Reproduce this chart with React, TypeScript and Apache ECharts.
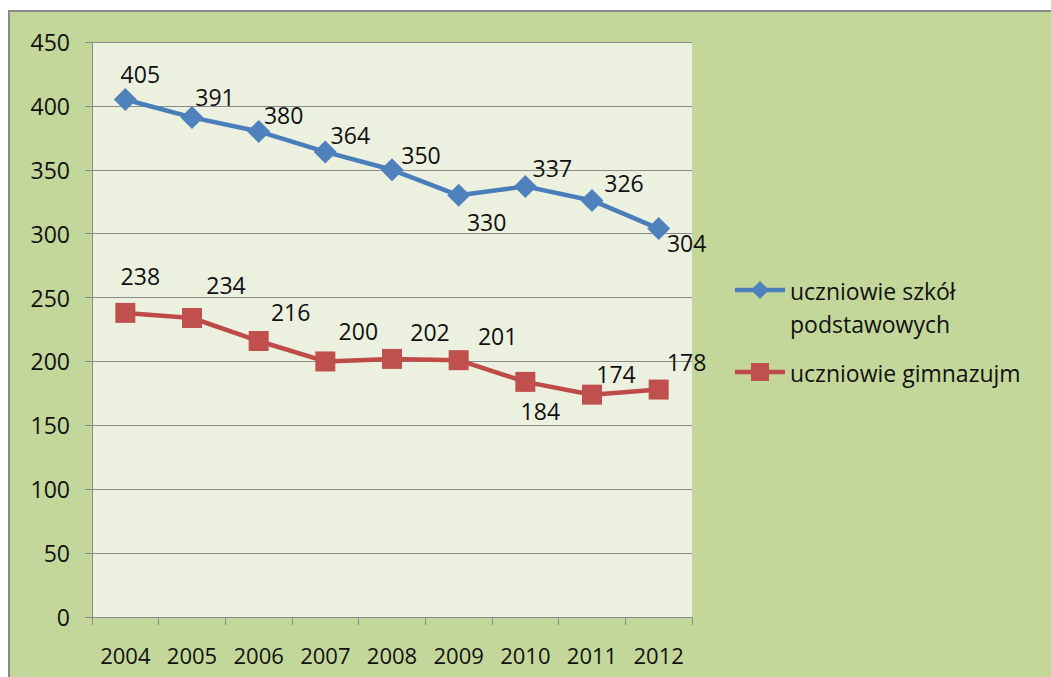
import React, { useEffect, useRef } from "react";
import * as echarts from "echarts";

const years = ["2004", "2005", "2006", "2007", "2008", "2009", "2010", "2011", "2012"];
const primaryName = "uczniowie szkół podstawowych";
const primaryValues = [405, 391, 380, 364, 350, 330, 337, 326, 304];
const gymName = "uczniowie gimnazujm";
const gymValues = [238, 234, 216, 200, 202, 201, 184, 174, 178];

// label offsets (px) relative to each point
const primaryLabelOffsets = [
  [15, -26], [23, -20], [25, -16], [25, -17], [29, -15], [28, 27], [27, -18], [32, -17], [28, 14],
];
const gymLabelOffsets = [
  [15, -37], [34, -33], [32, -29], [33, -30], [38, -27], [39, -24], [15, 29], [24, -21], [28, -28],
];

const FONT = "Open Sans";
const BLUE = "#4A7EBB";
const RED = "#BE4B48";
const GRID = "#8A8A8A";

export default function App() {
  const ref = useRef<HTMLDivElement>(null);
  useEffect(() => {
    if (!ref.current) return;
    const chart = echarts.init(ref.current, undefined, { renderer: "svg" });
    const labelStyle = {
      show: true,
      position: "inside",
      fontFamily: FONT,
      fontSize: 23,
      color: "#111",
    };
    const legendFont = `23px "${FONT}"`;
    chart.setOption({
      animation: false,
      backgroundColor: "#C4D79B",
      textStyle: { fontFamily: FONT },
      grid: {
        left: 82,
        top: 30,
        width: 600,
        height: 575,
        show: true,
        backgroundColor: "#EBF0DF",
        borderWidth: 0,
      },
      xAxis: {
        type: "category",
        data: years,
        boundaryGap: true,
        axisLine: { lineStyle: { color: GRID, width: 1 } },
        axisTick: { show: true, alignWithLabel: false, interval: 0, length: 8, lineStyle: { color: GRID } },
        axisLabel: { fontFamily: FONT, fontSize: 22, color: "#111", margin: 27, interval: 0 },
      },
      yAxis: {
        type: "value",
        min: 0,
        max: 450,
        interval: 50,
        axisLine: { show: true, lineStyle: { color: GRID, width: 1 } },
        axisTick: { show: true, length: 7, lineStyle: { color: GRID } },
        axisLabel: { fontFamily: FONT, fontSize: 23, color: "#111", margin: 22 },
        splitLine: { show: true, lineStyle: { color: GRID, width: 1 } },
      },
      series: [
        {
          name: primaryName,
          type: "line",
          data: primaryValues.map((v, i) => ({
            value: v,
            label: { ...labelStyle, offset: primaryLabelOffsets[i] },
          })),
          symbol: "diamond",
          symbolSize: 23,
          lineStyle: { color: BLUE, width: 4.5 },
          itemStyle: { color: "#4F81BD" },
        },
        {
          name: gymName,
          type: "line",
          data: gymValues.map((v, i) => ({
            value: v,
            label: { ...labelStyle, offset: gymLabelOffsets[i] },
          })),
          symbol: "rect",
          symbolSize: 20,
          lineStyle: { color: RED, width: 4.5 },
          itemStyle: { color: "#C0504D" },
        },
      ],
      graphic: [
        { type: "line", shape: { x1: 725, y1: 278, x2: 775, y2: 278 }, style: { stroke: BLUE, lineWidth: 4.5 } },
        { type: "polygon", shape: { points: [[750, 269], [759, 278], [750, 287], [741, 278]] }, style: { fill: "#4F81BD" } },
        { type: "text", x: 780, y: 279, style: { text: "uczniowie szkół", font: legendFont, fill: "#111", verticalAlign: "middle" } },
        { type: "text", x: 780, y: 312, style: { text: "podstawowych", font: legendFont, fill: "#111", verticalAlign: "middle" } },
        { type: "line", shape: { x1: 725, y1: 360, x2: 775, y2: 360 }, style: { stroke: RED, lineWidth: 4.5 } },
        { type: "rect", shape: { x: 741, y: 351, width: 18, height: 18 }, style: { fill: "#C0504D" } },
        { type: "text", x: 780, y: 361, style: { text: gymName, font: legendFont, fill: "#111", verticalAlign: "middle" } },
      ],
    });
    return () => chart.dispose();
  }, []);
  return (
    <div style={{ position: "fixed", left: 0, top: 0, width: 1051, height: 677, background: "#fff", overflow: "hidden" }}>
      <div
        style={{
          position: "absolute",
          left: 8,
          top: 10,
          width: 1043,
          height: 667,
          borderTop: "2px solid #8A8A8A",
          borderLeft: "2px solid #8A8A8A",
          boxSizing: "border-box",
        }}
      >
        <div ref={ref} style={{ width: 1041, height: 665 }} />
      </div>
    </div>
  );
}
